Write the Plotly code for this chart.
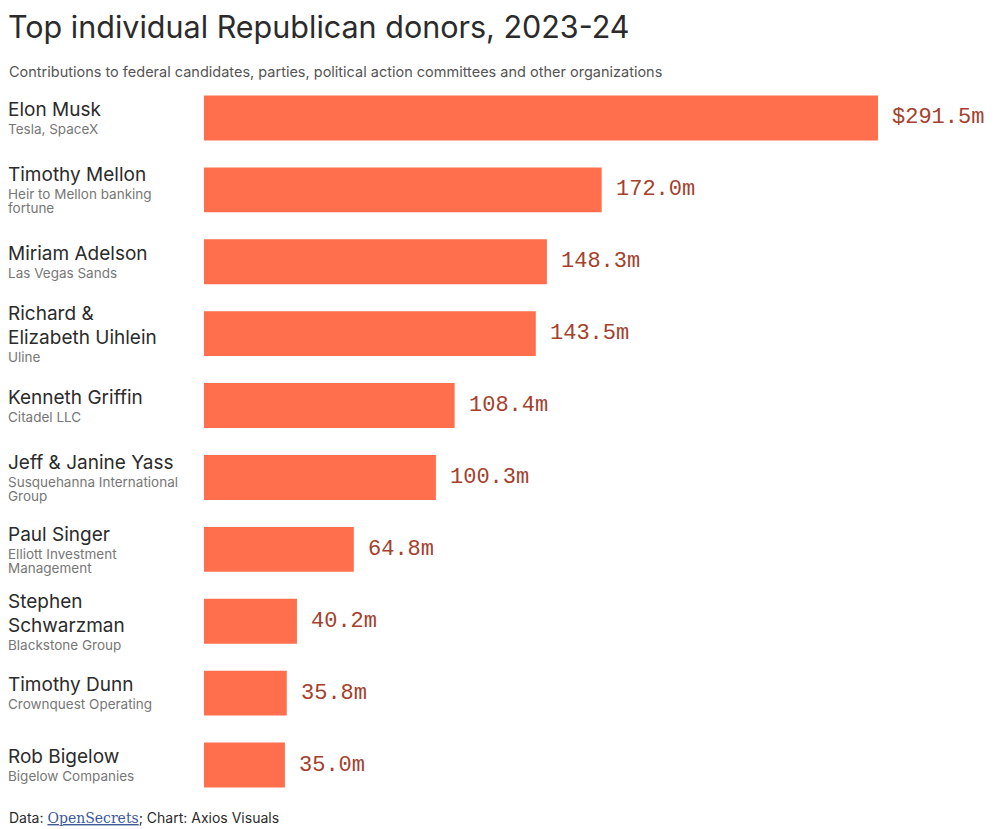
import plotly.graph_objects as go

names = ["Elon Musk", "Timothy Mellon", "Miriam Adelson", "Richard &<br>Elizabeth Uihlein",
         "Kenneth Griffin", "Jeff & Janine Yass", "Paul Singer", "Stephen<br>Schwarzman",
         "Timothy Dunn", "Rob Bigelow"]
affiliations = ["Tesla, SpaceX", "Heir to Mellon banking<br>fortune", "Las Vegas Sands", "Uline",
                "Citadel LLC", "Susquehanna International<br>Group", "Elliott Investment<br>Management",
                "Blackstone Group", "Crownquest Operating", "Bigelow Companies"]
values = [291.5, 172.0, 148.3, 143.5, 108.4, 100.3, 64.8, 40.2, 35.8, 35.0]

title = "Top individual Republican donors, 2023-24"
subtitle = "Contributions to federal candidates, parties, political action committees and other organizations"

value_labels = [("$" if i == 0 else "") + f"{v:.1f}m" for i, v in enumerate(values)]
cats = [n.replace("<br>", " ") for n in names]

BAR = "#ff6f4e"
VAL = "#a3412d"
DARK = "#2b2b2b"
GREY = "#777777"
FONT = "Inter"

W, H = 1000, 829
ML, MR, MT, MB = 196, 0, 73.5, 35.5
px_per_unit = 674 / 291.5
xmax = (W - ML - MR) / px_per_unit

fig = go.Figure(go.Bar(
    x=values, y=cats, orientation="h",
    marker=dict(color=BAR, line=dict(width=0)),
    hoverinfo="skip",
))

annotations = []
# value labels
for cat, v, lab in zip(cats, values, value_labels):
    annotations.append(dict(
        x=v, xref="x", y=cat, yref="y", xanchor="left", yanchor="middle",
        xshift=12, text=lab, showarrow=False,
        font=dict(family="Liberation Mono", size=22, color=VAL),
    ))

# row labels: one annotation per text line
NAME_LH, GAP, SUB_LH = 24, 19.5, 14
for cat, nm, af in zip(cats, names, affiliations):
    name_lines = nm.split("<br>")
    sub_lines = af.split("<br>")
    offs = []
    o = 0.0
    for i, _ in enumerate(name_lines):
        offs.append(("n", o))
        o += NAME_LH
    o = o - NAME_LH + GAP
    for _ in sub_lines:
        offs.append(("s", o))
        o += SUB_LH
    top = -10
    bottom = offs[-1][1] + 7
    mid = (top + bottom) / 2
    lines = name_lines + sub_lines
    for (kind, off), txt in zip(offs, lines):
        annotations.append(dict(
            x=0, xref="paper", y=cat, yref="y", xanchor="left", yanchor="middle",
            xshift=-ML - 1, yshift=-(off - mid), text=txt, showarrow=False, align="left",
            font=dict(family=FONT, size=19 if kind == "n" else 13.5,
                      color=DARK if kind == "n" else GREY),
            borderpad=0,
        ))

annotations.append(dict(
    x=0, xref="paper", xanchor="left", xshift=-ML - 1,
    y=1, yref="paper", yanchor="middle", yshift=MT - 17.5,
    text=title, showarrow=False, font=dict(family=FONT, size=30.5, color=DARK),
    borderpad=0,
))
annotations.append(dict(
    x=0, xref="paper", xanchor="left", xshift=-ML - 1,
    y=1, yref="paper", yanchor="middle", yshift=MT - 63,
    text=subtitle, showarrow=False, font=dict(family=FONT, size=14.5, color="#555555"),
))
annotations.append(dict(
    x=0, xref="paper", xanchor="left", xshift=-ML - 1,
    y=0, yref="paper", yanchor="middle", yshift=-(810 - (H - MB)),
    text="Data: <span style='font-family:\"DejaVu Serif\", serif;color:#3b5a9a'><u>OpenSecrets</u></span>; Chart: Axios Visuals",
    showarrow=False, font=dict(family=FONT, size=14, color=DARK),
))

fig.update_layout(
    width=W, height=H,
    margin=dict(l=ML, r=MR, t=MT, b=MB),
    paper_bgcolor="white", plot_bgcolor="white",
    showlegend=False, bargap=0.375,
    xaxis=dict(range=[0, xmax], visible=False, fixedrange=True),
    yaxis=dict(categoryorder="array", categoryarray=cats, autorange="reversed",
               showticklabels=False, showgrid=False, zeroline=False, showline=False, ticks=""),
    annotations=annotations,
)

fig.write_html("out.html")
